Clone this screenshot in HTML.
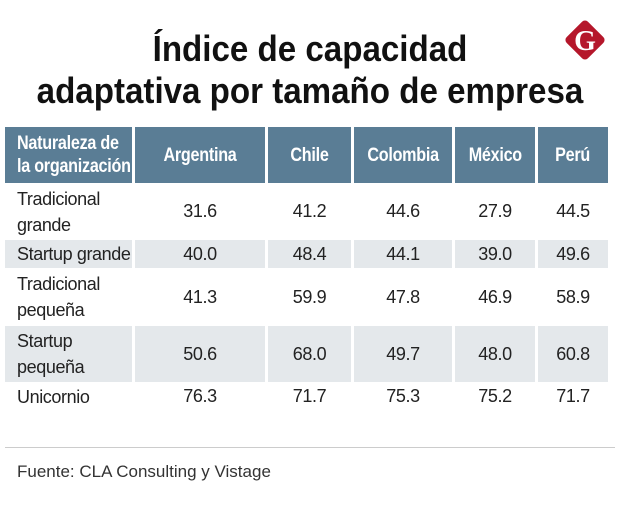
<!DOCTYPE html>
<html><head><meta charset="utf-8"><style>
body{margin:0;width:620px;height:513px;background:#fff;position:relative;overflow:hidden;font-family:"Liberation Sans",sans-serif;}
.t{position:absolute;left:0;width:620px;text-align:center;font-family:"Liberation Sans",sans-serif;font-weight:bold;font-size:36px;color:#111;transform:scaleX(0.92);transform-origin:310px 0;}
.c{position:absolute;box-sizing:border-box;display:flex;align-items:center;justify-content:center;}
.h{background:#5a7d95;color:#fff;font-weight:bold;font-size:19px;letter-spacing:-0.3px;}
.h span{line-height:23px;display:inline-block;transform:scaleX(0.85);white-space:nowrap}
.h.l span{transform-origin:0 50%}
.d{font-size:18px;color:#222;letter-spacing:-0.4px;}
.g{background:#e4e8eb;}
.l{justify-content:flex-start;padding-left:12px;line-height:26px;}
</style></head><body>
<div class="t" style="top:28px">Índice de capacidad</div>
<div class="t" style="top:70px">adaptativa por tamaño de empresa</div>
<svg style="position:absolute;left:560px;top:15px" width="50" height="50" viewBox="0 0 50 50">
<rect x="10" y="10" width="30" height="30" rx="4" fill="#b5172b" transform="rotate(45 25 25)"/>
<text x="25" y="35" text-anchor="middle" font-family="Liberation Serif" font-weight="bold" font-size="28" fill="#fff">G</text></svg>
<div id="tbl"></div>
<div style="position:absolute;left:5px;top:447px;width:610px;height:1px;background:#ccc"></div>
<div style="position:absolute;left:17px;top:462px;font-size:17px;color:#333">Fuente: CLA Consulting y Vistage</div>
<script>
const headers=["Naturaleza de<br>la organización","Argentina","Chile","Colombia","México","Perú"];
const rowLabels=["Tradicional<br>grande","Startup grande","Tradicional<br>pequeña","Startup<br>pequeña","Unicornio"];
const values=[[31.6,41.2,44.6,27.9,44.5],[40.0,48.4,44.1,39.0,49.6],[41.3,59.9,47.8,46.9,58.9],[50.6,68.0,49.7,48.0,60.8],[76.3,71.7,75.3,75.2,71.7]];
const colX=[5,135,268,354,455,538,611];
const rowY=[127,185,240,270,326,384,411];
const tbl=document.getElementById('tbl');
function cell(x0,x1,y0,y1,cls,html,name){const e=document.createElement('div');e.className='c '+cls;
e.style.left=x0+'px';e.style.width=(x1-x0)+'px';e.style.top=y0+'px';e.style.height=(y1-y0)+'px';e.innerHTML='<span>'+html+'</span>';


tbl.appendChild(e);}
headers.forEach((h,i)=>cell(colX[i],colX[i+1]-3,rowY[0],rowY[1]-2,'h'+(i==0?' l':''),h,'header-'+i));
rowLabels.forEach((r,j)=>{const g=j%2==1?' g':'';
cell(colX[0],colX[1]-3,rowY[j+1],rowY[j+2]-2,'d l'+g,r,'row-label-'+j);
values[j].forEach((v,i)=>cell(colX[i+1],colX[i+2]-3,rowY[j+1],rowY[j+2]-2,'d'+g,v.toFixed(1),'value-'+j+'-'+i));});
</script>
</body></html>
